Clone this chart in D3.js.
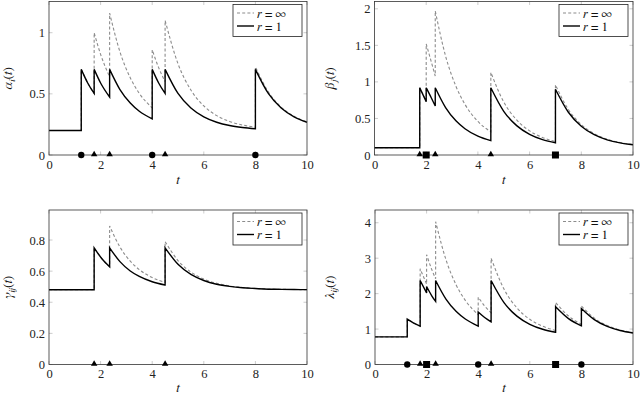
<!DOCTYPE html>
<html><head><meta charset="utf-8">
<script src="https://cdn.jsdelivr.net/npm/d3@7"></script>
</head><body style="margin:0">
<svg id="c" width="640" height="395" font-family="Liberation Serif"></svg>
<script>
// ---------- data ----------
const xTicks = [0, 2, 4, 6, 8, 10];
const circleEvents = [1.25, 4, 8];
const triangleEvents = [1.75, 2.35, 4.5];
const squareEvents = [2, 7];
const legendLabels = ["∞", "1"];

const alphaTicks = [0, 0.5, 1];
const alphaInf = [
  [[0,0.2],[1.25,0.2]],
  [[1.25,0.7],[1.5,0.589],[1.75,0.503]],
  [[1.75,1.0],[2.0,0.823],[2.35,0.64]],
  [[2.35,1.16],[2.75,0.843],[3.15,0.631],[3.5,0.504],[4.0,0.385]],
  [[4.0,0.86],[4.25,0.714],[4.5,0.60]],
  [[4.5,1.1],[5.0,0.746],[5.5,0.531],[6.0,0.401],[6.5,0.322],[7.0,0.274],[7.5,0.245],[8.0,0.227]],
  [[8.0,0.72],[8.5,0.516],[9.0,0.391],[9.5,0.316],[10,0.27]]
];
const alphaOne = [
  [[0,0.2],[1.25,0.2]],
  [[1.25,0.7],[1.5,0.589],[1.75,0.503]],
  [[1.75,0.7],[2.0,0.589],[2.35,0.474]],
  [[2.35,0.7],[2.75,0.535],[3.15,0.425],[3.5,0.358],[4.0,0.296]],
  [[4.0,0.7],[4.25,0.589],[4.5,0.503]],
  [[4.5,0.7],[5.0,0.503],[5.5,0.384],[6.0,0.312],[6.5,0.268],[7.0,0.241],[7.5,0.225],[8.0,0.215]],
  [[8.0,0.7],[8.5,0.503],[9.0,0.384],[9.5,0.312],[10,0.268]]
];

const betaTicks = [0, 0.5, 1, 1.5, 2];
const betaInf = [
  [[0,0.1],[1.75,0.1]],
  [[1.75,0.92],[2.0,0.739]],
  [[2.0,1.52],[2.2,1.27],[2.35,1.08]],
  [[2.35,1.97],[2.75,1.353],[3.15,0.94],[3.5,0.693],[4.0,0.459],[4.5,0.318]],
  [[4.5,1.13],[5.0,0.725],[5.5,0.479],[6.0,0.33],[6.5,0.239],[7.0,0.184]],
  [[7.0,0.96],[7.5,0.622],[8.0,0.416],[8.5,0.292],[9.0,0.216],[9.5,0.171],[10,0.143]]
];
const betaOne = [
  [[0,0.1],[1.75,0.1]],
  [[1.75,0.92],[2.0,0.73]],
  [[2.0,0.92],[2.2,0.78],[2.35,0.67]],
  [[2.35,0.92],[2.75,0.649],[3.15,0.468],[3.5,0.36],[4.0,0.258],[4.5,0.196]],
  [[4.5,0.92],[5.0,0.598],[5.5,0.402],[6.0,0.283],[6.5,0.211],[7.0,0.167]],
  [[7.0,0.9],[7.5,0.585],[8.0,0.394],[8.5,0.278],[9.0,0.208],[9.5,0.166],[10,0.14]]
];

const gammaTicks = [0, 0.2, 0.4, 0.6, 0.8];
const gammaInf = [
  [[0,0.48],[1.75,0.48]],
  [[1.75,0.75],[2.05,0.68],[2.35,0.628]],
  [[2.35,0.89],[2.75,0.755],[3.15,0.664],[3.5,0.61],[4.0,0.559],[4.5,0.528]],
  [[4.5,0.79],[5.0,0.668],[5.5,0.594],[6.0,0.549],[6.5,0.522],[7.0,0.505],[7.5,0.495],[8.0,0.489],[8.5,0.485],[9.0,0.483],[9.5,0.482],[10,0.481]]
];
const gammaOne = [
  [[0,0.48],[1.75,0.48]],
  [[1.75,0.75],[2.05,0.68],[2.35,0.628]],
  [[2.35,0.75],[2.75,0.661],[3.15,0.601],[3.5,0.566],[4.0,0.532],[4.5,0.511]],
  [[4.5,0.75],[5.0,0.644],[5.5,0.579],[6.0,0.54],[6.5,0.516],[7.0,0.502],[7.5,0.493],[8.0,0.488],[8.5,0.484],[9.0,0.483],[9.5,0.482],[10,0.481]]
];

const lambdaTicks = [0, 1, 2, 3, 4];
const lambdaInf = [
  [[0,0.78],[1.25,0.78]],
  [[1.25,1.28],[1.5,1.17],[1.75,1.083]],
  [[1.75,2.7],[2.0,2.27]],
  [[2.0,3.1],[2.2,2.68],[2.35,2.42]],
  [[2.35,4.03],[2.75,2.958],[3.15,2.239],[3.5,1.81],[4.0,1.404]],
  [[4.0,1.9],[4.25,1.652],[4.5,1.46]],
  [[4.5,3.0],[5.0,2.128],[5.5,1.597],[6.0,1.275],[6.5,1.08],[7.0,0.962]],
  [[7.0,1.75],[7.5,1.369],[8.0,1.137]],
  [[8.0,1.65],[8.5,1.308],[9.0,1.1],[9.5,0.974],[10,0.897]]
];
const lambdaOne = [
  [[0,0.78],[1.25,0.78]],
  [[1.25,1.28],[1.5,1.17],[1.75,1.083]],
  [[1.75,2.37],[2.0,2.02]],
  [[2.0,2.2],[2.2,1.94],[2.35,1.78]],
  [[2.35,2.37],[2.75,1.845],[3.15,1.494],[3.5,1.284],[4.0,1.085]],
  [[4.0,1.48],[4.25,1.325],[4.5,1.205]],
  [[4.5,2.37],[5.0,1.745],[5.5,1.365],[6.0,1.135],[6.5,0.995],[7.0,0.91]],
  [[7.0,1.63],[7.5,1.296],[8.0,1.093]],
  [[8.0,1.58],[8.5,1.266],[9.0,1.074],[9.5,0.958],[10,0.888]]
];

// ---------- layout ----------
const FONT = "Liberation Serif";
const MATH = "FreeSerif";
const panels = [
  {x0:49, x1:307, yT:1.5, yB:155, ymax:1.255, ticks:alphaTicks, inf:alphaInf, one:alphaOne,
   lab:["α","i"], lx:12, xlabY:184, ev:{c:circleEvents, t:triangleEvents, s:[]}},
  {x0:374.5, x1:633, yT:1.5, yB:155, ymax:2.1, ticks:betaTicks, inf:betaInf, one:betaOne,
   lab:["β","j"], lx:334, xlabY:184, ev:{c:[], t:triangleEvents, s:squareEvents}},
  {x0:49, x1:307, yT:210, yB:364.5, ymax:0.993, ticks:gammaTicks, inf:gammaInf, one:gammaOne,
   lab:["γ","ij"], lx:12, xlabY:392, ev:{c:[], t:triangleEvents, s:[]}},
  {x0:375, x1:633, yT:210, yB:364.5, ymax:4.36, ticks:lambdaTicks, inf:lambdaInf, one:lambdaOne,
   lab:["λ","ij"], lx:334, xlabY:392, ev:{c:circleEvents, t:triangleEvents, s:squareEvents}}
];

const svg = d3.select("#c");

panels.forEach(p => {
  const x = d3.scaleLinear().domain([0,10]).range([p.x0,p.x1]);
  const y = d3.scaleLinear().domain([0,p.ymax]).range([p.yB,p.yT]);
  const g = svg.append("g");

  // inner ticks on all sides
  const tk = g.append("g").attr("stroke","#aaa").attr("stroke-width",0.6);
  xTicks.forEach(v => {
    tk.append("line").attr("x1",x(v)).attr("x2",x(v)).attr("y1",p.yB).attr("y2",p.yB-3.5);
    tk.append("line").attr("x1",x(v)).attr("x2",x(v)).attr("y1",p.yT).attr("y2",p.yT+3.5);
  });
  p.ticks.forEach(v => {
    tk.append("line").attr("x1",p.x0).attr("x2",p.x0+3.5).attr("y1",y(v)).attr("y2",y(v));
    tk.append("line").attr("x1",p.x1).attr("x2",p.x1-3.5).attr("y1",y(v)).attr("y2",y(v));
  });

  // tick labels via d3 axes
  const ax = g.append("g").attr("transform",`translate(0,${p.yB})`)
    .call(d3.axisBottom(x).tickValues(xTicks).tickSize(0).tickPadding(5).tickFormat(d3.format("d")));
  const ay = g.append("g").attr("transform",`translate(${p.x0},0)`)
    .call(d3.axisLeft(y).tickValues(p.ticks).tickSize(0).tickPadding(4).tickFormat(d => String(d)));
  [ax, ay].forEach(a => {
    a.select(".domain").remove();
    a.attr("font-family", FONT).attr("font-size", null);
    a.selectAll("text").style("font-family",FONT).style("font-size","12.5px").attr("fill","#222");
  });

  // curves
  const line = d3.line().x(d => x(d[0])).y(d => y(d[1])).curve(d3.curveMonotoneX);
  const pathOf = segs => segs.map((s,i) => i === 0 ? line(s) : line(s).replace(/^M/,"L")).join("");
  g.append("path").attr("d",pathOf(p.inf)).attr("fill","none")
    .attr("stroke","#8c8c8c").attr("stroke-width",1.1).attr("stroke-dasharray","3,2.2");
  g.append("path").attr("d",pathOf(p.one)).attr("fill","none")
    .attr("stroke","#000").attr("stroke-width",1.4);

  // frame
  g.append("rect").attr("x",p.x0).attr("y",p.yT).attr("width",p.x1-p.x0).attr("height",p.yB-p.yT)
    .attr("fill","none").attr("stroke","#333").attr("stroke-width",0.8);

  // event markers
  p.ev.c.forEach(v => g.append("circle").attr("cx",x(v)).attr("cy",y(0)).attr("r",3.2).attr("fill","#000"));
  p.ev.t.forEach(v => g.append("path")
    .attr("d",d3.symbol(d3.symbolTriangle,18)())
    .attr("transform",`translate(${x(v)},${y(0)-0.5})`).attr("fill","#000"));
  p.ev.s.forEach(v => g.append("rect").attr("x",x(v)-3.5).attr("y",y(0)-3.5)
    .attr("width",7).attr("height",7).attr("fill","#000"));

  // y label
  const yl = g.append("text").attr("transform",`translate(${p.lx},${(p.yT+p.yB)/2}) rotate(-90)`)
    .attr("text-anchor","middle").style("font-family",MATH).style("font-size","13.5px").attr("fill","#111");
  yl.append("tspan").attr("font-style","italic").text(p.lab[0]);
  yl.append("tspan").attr("font-style","italic").style("font-size","9.5px").attr("dy",2.5).text(p.lab[1]);
  yl.append("tspan").attr("dy",-2.5).text("(");
  yl.append("tspan").attr("font-style","italic").text("t");
  yl.append("tspan").text(")");

  // x label
  g.append("text").attr("x",(p.x0+p.x1)/2).attr("y",p.xlabY).attr("text-anchor","middle")
    .style("font-family",MATH).style("font-size","13.5px").attr("font-style","italic").attr("fill","#111").text("t");

  // legend
  const lgX = p.x1 - 74, lgY = p.yT + 3;
  const lg = g.append("g");
  lg.append("rect").attr("x",lgX).attr("y",lgY).attr("width",69).attr("height",32)
    .attr("fill","#fff").attr("stroke","#222").attr("stroke-width",0.8);
  [["#8c8c8c","3,2.2",1.1],["#000",null,1.4]].forEach((st,i) => {
    const ry = lgY + 8.5 + i*13;
    lg.append("line").attr("x1",lgX+4).attr("x2",lgX+21).attr("y1",ry).attr("y2",ry)
      .attr("stroke",st[0]).attr("stroke-width",st[2]).attr("stroke-dasharray",st[1]);
    const t = lg.append("text").attr("x",lgX+24).attr("y",ry+4.5)
      .style("font-family",MATH).style("font-size","13px").attr("fill","#111");
    t.append("tspan").attr("font-style","italic").text("r");
    t.append("tspan").text(" = " + legendLabels[i]);
  });
});
</script>
</body></html>
